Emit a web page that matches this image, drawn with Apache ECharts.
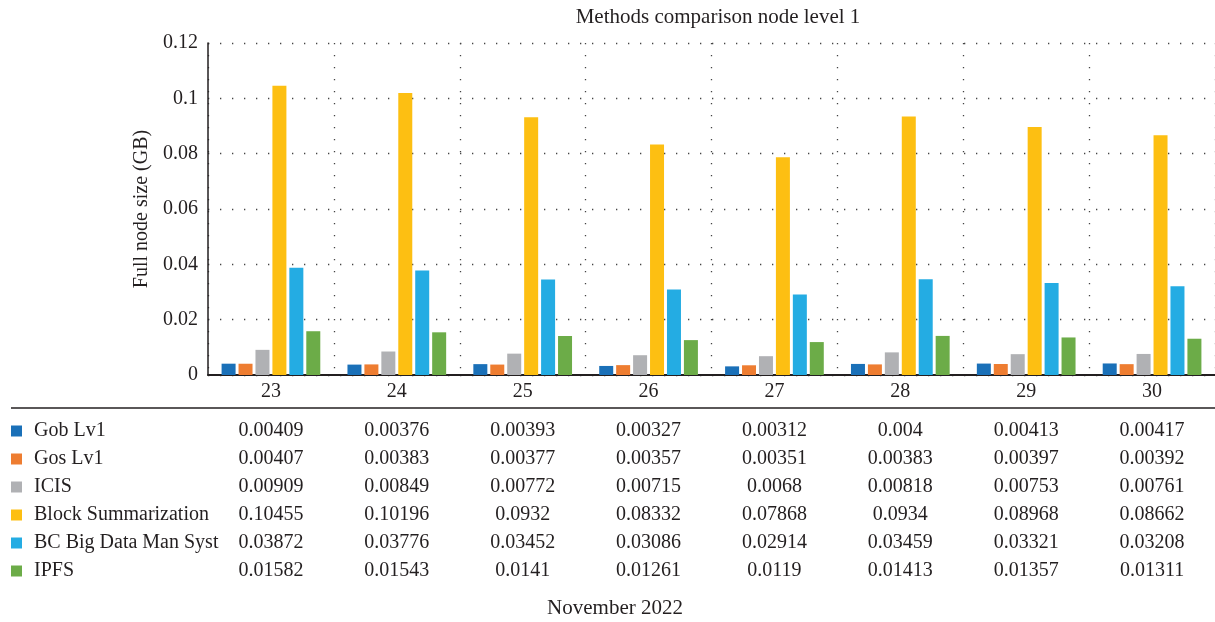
<!DOCTYPE html>
<html>
<head>
<meta charset="utf-8">
<script src="https://cdn.jsdelivr.net/npm/echarts@6/dist/echarts.min.js"></script>
<style>
  html, body { margin: 0; padding: 0; background: #fff; }
  #chart { width: 1215px; height: 622px; }
</style>
</head>
<body>
<div id="chart"></div>
<script>
// Days of November 2022
const days = ['23', '24', '25', '26', '27', '28', '29', '30'];

// Full node size (GB) per method
const gobLv1 = [0.00409, 0.00376, 0.00393, 0.00327, 0.00312, 0.004, 0.00413, 0.00417];
const gosLv1 = [0.00407, 0.00383, 0.00377, 0.00357, 0.00351, 0.00383, 0.00397, 0.00392];
const icis = [0.00909, 0.00849, 0.00772, 0.00715, 0.0068, 0.00818, 0.00753, 0.00761];
const blockSummarization = [0.10455, 0.10196, 0.0932, 0.08332, 0.07868, 0.0934, 0.08968, 0.08662];
const bcBigData = [0.03872, 0.03776, 0.03452, 0.03086, 0.02914, 0.03459, 0.03321, 0.03208];
const ipfs = [0.01582, 0.01543, 0.0141, 0.01261, 0.0119, 0.01413, 0.01357, 0.01311];

const seriesNames = ['Gob Lv1', 'Gos Lv1', 'ICIS', 'Block Summarization', 'BC Big Data Man Syst', 'IPFS'];
const seriesValues = [gobLv1, gosLv1, icis, blockSummarization, bcBigData, ipfs];
const colors = ['#1a70b8', '#ee7d31', '#b0b1b4', '#fdbf12', '#24ace3', '#6cac48'];

const yTicks = { min: 0, max: 0.12, interval: 0.02 };

const FONT = '"Liberation Serif", "DejaVu Serif", serif';
const TEXT = '#231f20';

// Data table rows: one hidden category axis per series, labels show the values
const tableAxes = seriesValues.map((vals, k) => ({
  type: 'category',
  data: days,
  position: 'bottom',
  offset: 39 + 28 * k,
  axisLine: { show: false },
  axisTick: { show: false },
  splitLine: { show: false },
  axisLabel: {
    margin: 7,
    fontFamily: FONT,
    fontSize: 20,
    color: TEXT,
    formatter: (v, i) => String(vals[i])
  }
}));

const chart = echarts.init(document.getElementById('chart'), null, { renderer: 'canvas' });

chart.setOption({
  animation: false,
  backgroundColor: '#fff',
  color: colors,
  title: {
    text: 'Methods comparison node level 1',
    left: 713,
    top: 2,
    textAlign: 'center',
    textStyle: { fontFamily: FONT, fontSize: 21, fontWeight: 'normal', color: TEXT }
  },
  legend: {
    orient: 'vertical',
    left: 11,
    top: 421,
    padding: 0,
    icon: 'rect',
    itemWidth: 11,
    itemHeight: 11,
    itemGap: 8,
    data: seriesNames,
    textStyle: { fontFamily: FONT, fontSize: 20, color: TEXT, lineHeight: 20, padding: [0, 0, 0, 7] }
  },
  grid: { left: 208, right: -1, top: 43, bottom: 247, containLabel: false },
  xAxis: [{
    type: 'category',
    data: days,
    position: 'bottom',
    axisLine: { show: true, lineStyle: { color: '#231f20', width: 2 } },
    axisTick: { show: false },
    axisLabel: { margin: 7, fontFamily: FONT, fontSize: 20, color: TEXT },
    splitLine: { show: true, lineStyle: { color: '#444', width: 1.3, type: [1.3, 10.7] } }
  }].concat(tableAxes),
  yAxis: {
    type: 'value',
    min: yTicks.min,
    max: yTicks.max,
    interval: yTicks.interval,
    name: 'Full node size (GB)',
    nameLocation: 'middle',
    nameGap: 56,
    nameTextStyle: { fontFamily: FONT, fontSize: 20, color: TEXT },
    axisLine: { show: true, lineStyle: { color: '#231f20', width: 1.5 } },
    axisTick: { show: false },
    axisLabel: { margin: 10, fontFamily: FONT, fontSize: 20, color: TEXT },
    splitLine: { show: true, lineStyle: { color: '#444', width: 1.3, type: [1.3, 10.7] } }
  },
  series: seriesNames.map((name, k) => ({
    name,
    type: 'bar',
    xAxisIndex: 0,
    data: seriesValues[k],
    barWidth: 14,
    barGap: '21%',
    itemStyle: { color: colors[k] }
  })),
  graphic: [
    {
      type: 'line',
      shape: { x1: 11, y1: 408, x2: 1215, y2: 408 },
      style: { stroke: '#231f20', lineWidth: 1.5 }
    },
    {
      type: 'text',
      x: 615,
      y: 608,
      style: {
        text: 'November 2022',
        fontFamily: FONT,
        fontSize: 21,
        fill: TEXT,
        align: 'center',
        verticalAlign: 'middle'
      }
    }
  ]
});
</script>
</body>
</html>
